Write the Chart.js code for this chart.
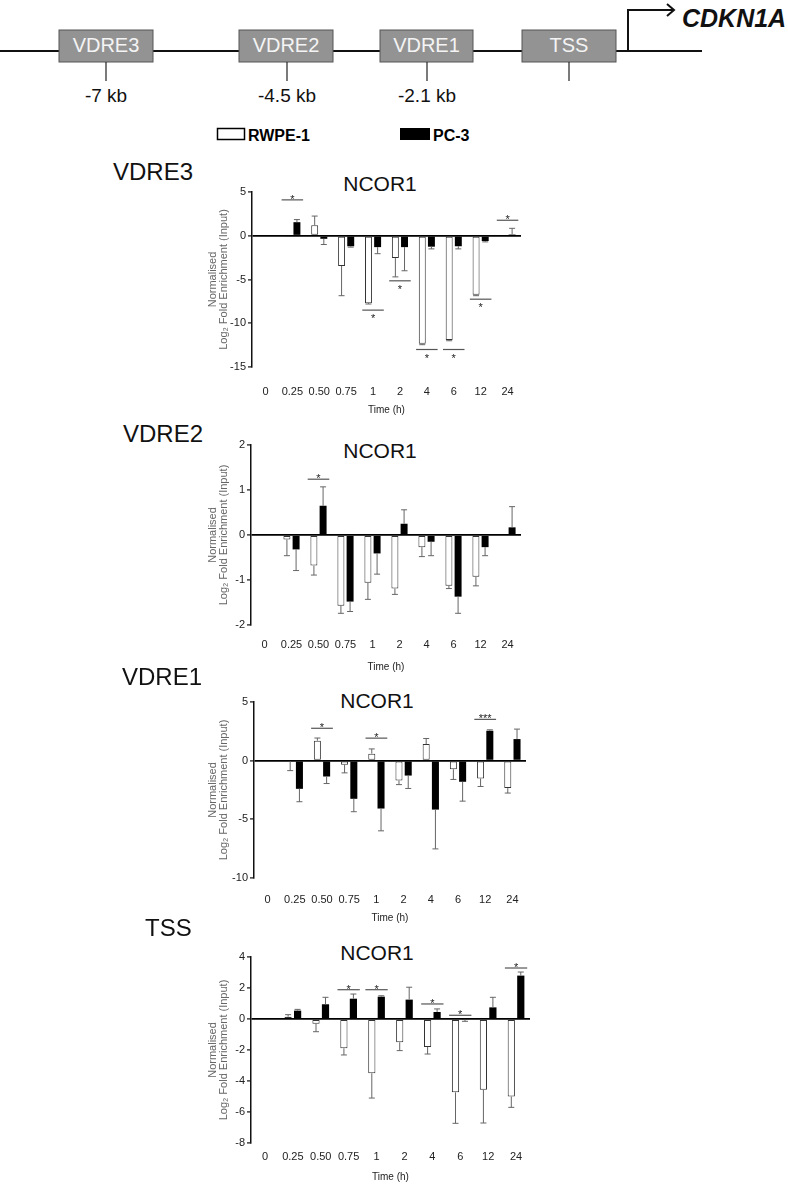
<!DOCTYPE html>
<html lang="en">
<head>
<meta charset="UTF-8">
<title>NCOR1 enrichment at CDKN1A VDREs</title>
<script src="https://cdn.jsdelivr.net/npm/chart.js"></script>
<style>
    body {
        margin: 0;
        background: #fff;
        font-family: 'Liberation Sans', Arial, sans-serif;
    }
    #page {
        position: relative;
        width: 788px;
        height: 1185px;
        overflow: hidden;
    }
    .site {
        position: absolute;
        font-size: 24px;
        color: #111;
        line-height: 1;
    }
    .ncor {
        position: absolute;
        font-size: 21px;
        color: #111;
        transform: translate(-50%, -50%);
        line-height: 1;
    }
    .plot {
        position: absolute;
        left: 170px;
        width: 390px;
    }
</style>
</head>
<body>
<div id="page">

    <!-- gene diagram + legend -->
    <svg width="788" height="150" style="position:absolute;left:0;top:0" font-family="Liberation Sans, Arial, sans-serif">
        <line x1="0" y1="51" x2="702" y2="51" stroke="#111" stroke-width="2"/>
        <polyline points="628,51 628,10 674,10" fill="none" stroke="#111" stroke-width="2"/>
        <polyline points="667,4 674,10 667,16" fill="none" stroke="#111" stroke-width="2"/>
        <text x="682" y="27" font-size="25" font-weight="bold" font-style="italic" fill="#111">CDKN1A</text>

        <rect x="59" y="30" width="94" height="32" fill="#939393" stroke="#555"/>
        <rect x="239" y="30" width="94" height="32" fill="#939393" stroke="#555"/>
        <rect x="380" y="30" width="93" height="32" fill="#939393" stroke="#555"/>
        <rect x="522" y="30" width="94" height="32" fill="#939393" stroke="#555"/>
        <g font-size="20" fill="#f4f4f4" text-anchor="middle">
            <text x="106" y="52">VDRE3</text>
            <text x="286" y="52">VDRE2</text>
            <text x="426.5" y="52">VDRE1</text>
            <text x="569" y="52">TSS</text>
        </g>
        <g stroke="#222" stroke-width="1.2">
            <line x1="106" y1="62" x2="106" y2="81"/>
            <line x1="287" y1="62" x2="287" y2="81"/>
            <line x1="427" y1="62" x2="427" y2="81"/>
            <line x1="569" y1="62" x2="569" y2="81"/>
        </g>
        <g font-size="19" fill="#111" text-anchor="middle">
            <text x="106" y="102">-7 kb</text>
            <text x="287" y="102">-4.5 kb</text>
            <text x="427" y="102">-2.1 kb</text>
        </g>

        <rect x="217.5" y="128.5" width="27" height="11" fill="#fff" stroke="#000" stroke-width="1.5"/>
        <text x="248" y="141" font-size="16" font-weight="bold" fill="#000">RWPE-1</text>
        <rect x="400" y="128" width="30" height="12" fill="#000"/>
        <text x="433" y="141" font-size="16" font-weight="bold" fill="#000">PC-3</text>
    </svg>

    <div class="site" style="left:113px;top:160px">VDRE3</div>
    <div class="ncor" style="left:380px;top:183px">NCOR1</div>
    <div class="plot" id="box1"><canvas id="chart1"></canvas></div>

    <div class="site" style="left:123px;top:422px">VDRE2</div>
    <div class="ncor" style="left:380px;top:450px">NCOR1</div>
    <div class="plot" id="box2"><canvas id="chart2"></canvas></div>

    <div class="site" style="left:122px;top:665px">VDRE1</div>
    <div class="ncor" style="left:377px;top:700px">NCOR1</div>
    <div class="plot" id="box3"><canvas id="chart3"></canvas></div>

    <div class="site" style="left:145px;top:916px">TSS</div>
    <div class="ncor" style="left:377px;top:952px">NCOR1</div>
    <div class="plot" id="box4"><canvas id="chart4"></canvas></div>
</div>

<script>
    // time points (h)
    const timeLabels = ['0', '0.25', '0.50', '0.75', '1', '2', '4', '6', '12', '24'];

    // VDRE3 (-7 kb)
    const vdre3Rwpe = [0, -0.05, 1.2, -3.45, -7.7, -2.55, -12.35, -11.9, -6.75, 0];
    const vdre3RwpeErr = [0, 0, 1.05, 3.4, 0.1, 2.15, 0.1, 0.1, 0.1, 0];
    const vdre3Pc3 = [0, 1.55, -0.35, -1.2, -1.3, -1.3, -1.25, -1.2, -0.6, 0.15];
    const vdre3Pc3Err = [0, 0.3, 0.65, 0.1, 0.75, 2.7, 0.25, 0.3, 0.1, 0.7];
    const vdre3SigIdx = [1, 4, 5, 6, 7, 8, 9];
    const vdre3SigY = [4.1, -8.5, -5.15, -13.0, -13.0, -7.25, 1.77];
    const vdre3SigText = ['*', '*', '*', '*', '*', '*', '*'];
    const vdre3SigSide = ['above', 'below', 'below', 'below', 'below', 'below', 'above'];
    const vdre3Ticks = [-15, -10, -5, 0, 5];

    // VDRE2 (-4.5 kb)
    const vdre2Rwpe = [0, -0.1, -0.68, -1.57, -1.06, -1.19, -0.27, -1.13, -0.93, 0];
    const vdre2RwpeErr = [0, 0.36, 0.21, 0.17, 0.37, 0.13, 0.21, 0.06, 0.2, 0];
    const vdre2Pc3 = [0, -0.32, 0.65, -1.48, -0.41, 0.25, -0.15, -1.37, -0.27, 0.17];
    const vdre2Pc3Err = [0, 0.47, 0.42, 0.22, 0.46, 0.31, 0.31, 0.37, 0.19, 0.46];
    const vdre2SigIdx = [2];
    const vdre2SigY = [1.24];
    const vdre2SigText = ['*'];
    const vdre2SigSide = ['above'];
    const vdre2Ticks = [-2, -1, 0, 1, 2];

    // VDRE1 (-2.1 kb)
    const vdre1Rwpe = [0, -0.05, 1.7, -0.34, 0.6, -1.69, 1.41, -0.73, -1.52, -2.34];
    const vdre1RwpeErr = [0, 0.8, 0.23, 0.7, 0.4, 0.35, 0.48, 0.87, 0.68, 0.42];
    const vdre1Pc3 = [0, -2.4, -1.35, -3.25, -4.08, -1.27, -4.17, -1.8, 2.55, 1.84];
    const vdre1Pc3Err = [0, 1.1, 0.6, 1.1, 1.9, 1.1, 3.35, 1.65, 0.08, 0.85];
    const vdre1SigIdx = [2, 4, 8];
    const vdre1SigY = [2.76, 1.92, 3.52];
    const vdre1SigText = ['*', '*', '***'];
    const vdre1SigSide = ['above', 'above', 'above'];
    const vdre1Ticks = [-10, -5, 0, 5];

    // TSS
    const tssRwpe = [0, 0.15, -0.3, -1.89, -3.5, -1.5, -1.8, -4.73, -4.56, -5.0];
    const tssRwpeErr = [0, 0.13, 0.52, 0.43, 1.6, 0.54, 0.46, 2.0, 2.15, 0.7];
    const tssPc3 = [0, 0.54, 0.95, 1.31, 1.44, 1.25, 0.45, -0.05, 0.75, 2.8];
    const tssPc3Err = [0, 0.08, 0.45, 0.3, 0.06, 0.8, 0.2, 0.1, 0.65, 0.23];
    const tssSigIdx = [3, 4, 6, 7, 9];
    const tssSigY = [1.89, 1.89, 0.97, 0.24, 3.29];
    const tssSigText = ['*', '*', '*', '*', '*'];
    const tssSigSide = ['above', 'above', 'above', 'above', 'above'];
    const tssTicks = [-8, -6, -4, -2, 0, 2, 4];

    Chart.defaults.font.family = "'Liberation Sans', Arial, sans-serif";
    Chart.defaults.color = '#222';

    const PLOT_LEFT = 170, PLOT_RIGHT = 560;

    // one-sided error bars (away from zero), drawn from the bar end
    const errorBarPlugin = {
        id: 'errorBars',
        afterDatasetsDraw(chart) {
            const ctx = chart.ctx;
            const y = chart.scales.y;
            chart.data.datasets.forEach((ds, di) => {
                const meta = chart.getDatasetMeta(di);
                meta.data.forEach((bar, i) => {
                    const v = ds.data[i];
                    const e = ds.errorBars[i];
                    if (!e) return;
                    const end = v >= 0 ? v + e : v - e;
                    const yEnd = y.getPixelForValue(end);
                    ctx.save();
                    ctx.strokeStyle = '#666';
                    ctx.lineWidth = 1;
                    ctx.beginPath();
                    ctx.moveTo(bar.x, bar.y);
                    ctx.lineTo(bar.x, yEnd);
                    ctx.moveTo(bar.x - 3, yEnd);
                    ctx.lineTo(bar.x + 3, yEnd);
                    ctx.stroke();
                    ctx.restore();
                });
            });
        }
    };

    // significance brackets with stars
    const sigPlugin = {
        id: 'sigMarks',
        afterDatasetsDraw(chart, args, opts) {
            const ctx = chart.ctx;
            const x = chart.scales.x, y = chart.scales.y;
            const half = x.width / timeLabels.length * 0.4;
            opts.idx.forEach((ci, k) => {
                const cx = x.getPixelForValue(ci);
                const py = y.getPixelForValue(opts.y[k]);
                ctx.save();
                ctx.strokeStyle = '#555';
                ctx.lineWidth = 1.2;
                ctx.beginPath();
                ctx.moveTo(cx - half, py);
                ctx.lineTo(cx + half, py);
                ctx.stroke();
                ctx.fillStyle = '#222';
                ctx.font = "11px 'Liberation Sans', Arial, sans-serif";
                ctx.textAlign = 'center';
                ctx.textBaseline = 'alphabetic';
                ctx.fillText(opts.text[k], cx, opts.side[k] === 'above' ? py + 3 : py + 12);
                ctx.restore();
            });
        }
    };

    function makeChart(id, boxId, area, tickY, titleY, rwpe, rwpeErr, pc3, pc3Err, ticks, sig) {
        const top = area.top - 12;
        const bottom = titleY + 10;
        const box = document.getElementById(boxId);
        box.style.top = top + 'px';
        box.style.height = (bottom - top) + 'px';

        return new Chart(document.getElementById(id), {
            type: 'bar',
            data: {
                labels: timeLabels,
                datasets: [{
                    label: 'RWPE-1',
                    data: rwpe,
                    errorBars: rwpeErr,
                    backgroundColor: '#fff',
                    borderColor: '#333',
                    borderWidth: 1,
                    borderSkipped: false
                }, {
                    label: 'PC-3',
                    data: pc3,
                    errorBars: pc3Err,
                    backgroundColor: '#000',
                    borderColor: '#000',
                    borderWidth: 0
                }]
            },
            options: {
                responsive: true,
                maintainAspectRatio: false,
                animation: false,
                categoryPercentage: 0.68,
                barPercentage: 0.76,
                layout: {
                    padding: { left: 0, right: PLOT_RIGHT - area.right, top: 12, bottom: 0 }
                },
                plugins: {
                    legend: { display: false },
                    tooltip: { enabled: false },
                    sigMarks: sig
                },
                scales: {
                    x: {
                        type: 'category',
                        offset: true,
                        grid: { display: false, drawTicks: false, tickLength: 0 },
                        border: { display: false },
                        ticks: {
                            font: { size: 11 },
                            color: '#222',
                            maxRotation: 0,
                            autoSkip: false,
                            padding: tickY - area.bottom - 6.6
                        },
                        title: {
                            display: true,
                            text: 'Time (h)',
                            font: { size: 10 },
                            color: '#222',
                            padding: { top: 0, bottom: 4 }
                        },
                        afterFit(scale) { scale.height = bottom - area.bottom; }
                    },
                    y: {
                        min: ticks[0],
                        max: ticks[ticks.length - 1],
                        afterBuildTicks(scale) { scale.ticks = ticks.map(v => ({ value: v })); },
                        grid: {
                            color: c => (c.tick && c.tick.value === 0) ? '#000' : 'rgba(0,0,0,0)',
                            lineWidth: 1.8,
                            drawTicks: true,
                            tickLength: 4,
                            tickColor: '#111',
                            tickWidth: 1.2
                        },
                        border: { display: true, color: '#111', width: 1.5 },
                        ticks: { font: { size: 11 }, color: '#222', padding: 2 },
                        title: {
                            display: true,
                            text: ['Normalised', 'Log\u2082 Fold Enrichment (Input)'],
                            font: { size: 11, lineHeight: 1.0 },
                            color: '#666',
                            padding: { top: 37, bottom: 0 }
                        },
                        afterFit(scale) { scale.width = area.left - PLOT_LEFT; }
                    }
                }
            },
            plugins: [errorBarPlugin, sigPlugin]
        });
    }

    makeChart('chart1', 'box1', { left: 252, right: 521, top: 192, bottom: 367 }, 392, 410,
        vdre3Rwpe, vdre3RwpeErr, vdre3Pc3, vdre3Pc3Err, vdre3Ticks,
        { idx: vdre3SigIdx, y: vdre3SigY, text: vdre3SigText, side: vdre3SigSide });

    makeChart('chart2', 'box2', { left: 251, right: 521, top: 445, bottom: 625 }, 645, 667,
        vdre2Rwpe, vdre2RwpeErr, vdre2Pc3, vdre2Pc3Err, vdre2Ticks,
        { idx: vdre2SigIdx, y: vdre2SigY, text: vdre2SigText, side: vdre2SigSide });

    makeChart('chart3', 'box3', { left: 254, right: 526, top: 702, bottom: 878 }, 900, 918,
        vdre1Rwpe, vdre1RwpeErr, vdre1Pc3, vdre1Pc3Err, vdre1Ticks,
        { idx: vdre1SigIdx, y: vdre1SigY, text: vdre1SigText, side: vdre1SigSide });

    makeChart('chart4', 'box4', { left: 251, right: 530, top: 957, bottom: 1143 }, 1157, 1177,
        tssRwpe, tssRwpeErr, tssPc3, tssPc3Err, tssTicks,
        { idx: tssSigIdx, y: tssSigY, text: tssSigText, side: tssSigSide });
</script>
</body>
</html>
